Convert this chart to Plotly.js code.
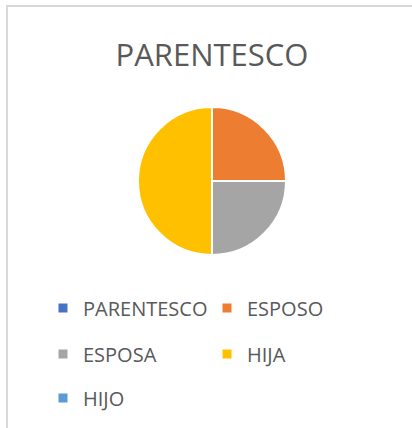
<!DOCTYPE html>
<html><head><meta charset="utf-8">
<script src="https://cdn.plot.ly/plotly-3.0.1.min.js"></script>
<style>
html,body{margin:0;padding:0;background:#fff;overflow:hidden;}
#frame{position:absolute;left:6px;top:5px;width:440px;height:450px;border:2px solid #d9d9d9;box-sizing:border-box;}
#chart{position:absolute;left:0;top:0;width:412px;height:428px;}
</style></head><body>
<div id="frame"></div>
<div id="chart"></div>
<script>
const chartTitle = 'PARENTESCO';
const categories = ['PARENTESCO', 'ESPOSO', 'ESPOSA', 'HIJA', 'HIJO'];
const values = [0, 1, 1, 2, 0];
const colors = ['#4472C4', '#ED7D31', '#A5A5A5', '#FFC000', '#5B9BD5'];

const W = 412, H = 428;
const textColor = '#595959';
const fontFamily = '"Open Sans", "Noto Sans", sans-serif';

const traces = [{
  type: 'pie',
  labels: categories,
  values: values,
  marker: {colors: colors, line: {color: '#ffffff', width: 2}},
  sort: false,
  direction: 'clockwise',
  rotation: 0,
  textinfo: 'none',
  hoverinfo: 'label+percent',
  showlegend: false,
  domain: {x: [138 / W, 286 / W], y: [1 - 255 / H, 1 - 107 / H]}
}];

// Legend entries, two per row, one Plotly legend per row
categories.forEach((c, i) => {
  const row = Math.floor(i / 2);
  traces.push({
    type: 'scatter', x: [null], y: [null], mode: 'markers', name: c,
    marker: {symbol: 'square', size: 9, color: colors[i]},
    legend: row === 0 ? 'legend' : 'legend' + (row + 1),
    hoverinfo: 'skip', showlegend: true
  });
});

const rowY = [308, 354, 398];
const legendBase = {
  orientation: 'h', traceorder: 'normal',
  font: {family: fontFamily, size: 20, color: textColor},
  entrywidth: 119, entrywidthmode: 'pixels',
  xanchor: 'left', yanchor: 'middle',
  x: 43 / W, bgcolor: 'rgba(0,0,0,0)', borderwidth: 0
};

const layout = {
  width: W, height: H,
  margin: {l: 0, r: 0, t: 0, b: 0},
  paper_bgcolor: 'rgba(0,0,0,0)', plot_bgcolor: 'rgba(0,0,0,0)',
  title: {
    text: chartTitle, xref: 'container', yref: 'container',
    x: 212 / W, xanchor: 'center', y: 1 - 55 / H, yanchor: 'middle',
    font: {family: fontFamily, size: 31, color: textColor}
  },
  xaxis: {visible: false}, yaxis: {visible: false},
  legend: Object.assign({}, legendBase, {y: 1 - rowY[0] / H}),
  legend2: Object.assign({}, legendBase, {y: 1 - rowY[1] / H}),
  legend3: Object.assign({}, legendBase, {y: 1 - rowY[2] / H})
};

Plotly.newPlot('chart', traces, layout, {displayModeBar: false, staticPlot: true});
</script>
</body></html>
